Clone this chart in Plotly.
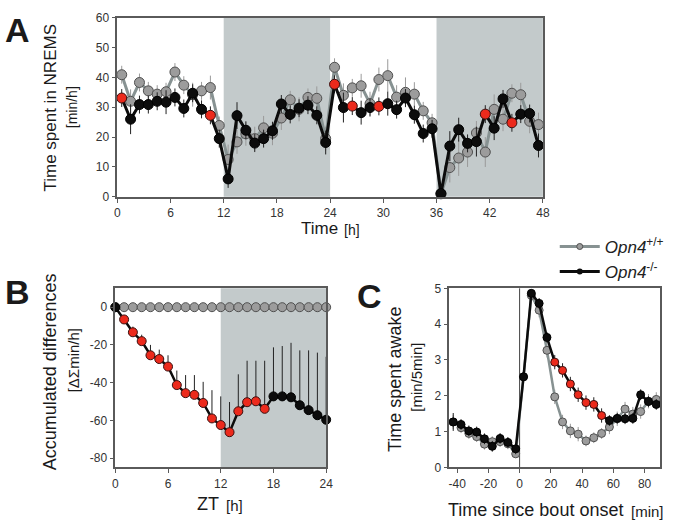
import plotly.graph_objects as go

# ---------------- DATA ----------------
# Panel A: time spent in NREMS (min/h)
hours_A = [0.5, 1.5, 2.5, 3.5, 4.5, 5.5, 6.5, 7.5, 8.5, 9.5, 10.5, 11.5,
           12.5, 13.5, 14.5, 15.5, 16.5, 17.5, 18.5, 19.5, 20.5, 21.5, 22.5, 23.5,
           24.5, 25.5, 26.5, 27.5, 28.5, 29.5, 30.5, 31.5, 32.5, 33.5, 34.5, 35.5,
           36.5, 37.5, 38.5, 39.5, 40.5, 41.5, 42.5, 43.5, 44.5, 45.5, 46.5, 47.5]
wt_A = [40.9, 32.0, 38.3, 35.5, 34.4, 35.2, 41.8, 37.4, 34.2, 35.5, 36.6, 23.9,
        12.5, 18.4, 21.1, 19.5, 23.1, 21.3, 26.4, 32.5, 29.3, 33.3, 33.0, 19.5,
        43.4, 34.0, 36.5, 37.2, 31.2, 39.3, 40.6, 33.4, 35.0, 34.4, 28.8, 24.8,
        1.0, 9.8, 13.0, 15.0, 21.4, 15.0, 29.3, 26.0, 34.7, 34.2, 25.3, 24.2]
wt_A_err = [3, 4, 3, 3, 3, 3, 3, 3, 4, 3, 4, 3,
            5, 4, 4, 4, 4, 4, 4, 3, 4, 3, 4, 4,
            3, 4, 3, 4, 4, 4, 5.5, 4, 5, 4, 3, 3,
            1, 5, 6, 5, 4, 5, 5, 4, 3, 4, 4, 4]
ko_A = [33.1, 26.0, 30.9, 30.9, 32.0, 31.7, 33.3, 29.6, 34.7, 29.3, 27.3, 19.5,
        6.0, 27.2, 22.3, 18.0, 19.5, 22.1, 31.1, 27.6, 29.7, 30.7, 27.3, 18.2,
        37.7, 29.9, 30.4, 28.2, 29.9, 30.3, 31.2, 29.2, 33.1, 27.5, 21.2, 22.8,
        1.1, 17.0, 22.5, 17.9, 18.5, 27.7, 23.0, 32.8, 24.8, 27.7, 27.9, 17.2]
ko_A_err = [3, 5, 3, 3, 3, 4, 3, 3, 3, 3, 3, 3,
            3, 4.5, 3, 3, 3, 3, 3, 3, 3, 3, 3, 4,
            3, 5, 3, 4, 3, 3, 4, 3, 3, 3, 3, 3,
            1, 5, 4, 3, 5, 3, 4, 3, 3, 3, 3, 4]
sig_A = [0.5, 10.5, 24.5, 26.5, 29.5, 41.5, 44.5]

# Panel B: accumulated differences
zt_B = [0, 1, 2, 3, 4, 5, 6, 7, 8, 9, 10, 11, 12,
        13, 14, 15, 16, 17, 18, 19, 20, 21, 22, 23, 24]
wt_B = [0, 0, 0, 0, 0, 0, 0, 0, 0, 0, 0, 0, 0,
        0, 0, 0, 0, 0, 0, 0, 0, 0, 0, 0, 0]
ko_B = [0, -6.5, -13.3, -18.0, -25.5, -27.5, -31.5, -41.3, -45.6, -46.5, -50.8, -59.0, -62.5,
        -66.3, -55.2, -50.4, -49.9, -53.9, -47.3, -47.3, -47.8, -52.0, -54.6, -57.3, -59.7]
ko_B_err = [0, 1.5, 3, 3.4, 5.5, 5, 6, 7.7, 9.6, 10.5, 11.2, 15, 15.2,
            16, 19.6, 22, 21.5, 25.5, 26, 26.7, 28.9, 29.1, 31.7, 33.2, 33.4]
sig_B = [1, 2, 3, 4, 5, 6, 7, 8, 9, 10, 11, 12, 13, 14, 15, 16, 17]

# Panel C: time spent awake (min/5min)
t_C = [-42.5, -37.5, -32.5, -27.5, -22.5, -17.5, -12.5, -7.5, -2.5,
       2.5, 7.5, 12.5, 17.5, 22.5, 27.5, 32.5, 37.5, 42.5, 47.5, 52.5,
       57.5, 62.5, 67.5, 72.5, 77.5, 82.5, 87.5]
wt_C = [1.27, 1.11, 0.95, 0.86, 0.65, 0.72, 0.72, 0.66, 0.38,
        2.53, 4.80, 4.39, 3.27, 1.97, 1.27, 1.02, 0.93, 0.74, 0.83, 0.95,
        1.13, 1.36, 1.63, 1.49, 1.56, 1.85, 1.90]
wt_C_err = [0.2, 0.15, 0.15, 0.15, 0.15, 0.15, 0.15, 0.15, 0.1,
            0.2, 0.15, 0.2, 0.2, 0.2, 0.2, 0.2, 0.2, 0.15, 0.15, 0.15,
            0.2, 0.2, 0.2, 0.2, 0.2, 0.2, 0.2]
ko_C = [1.27, 1.20, 1.02, 0.99, 0.80, 0.59, 0.81, 0.70, 0.52,
        2.53, 4.86, 4.58, 3.63, 2.94, 2.71, 2.33, 2.03, 1.81, 1.76, 1.45,
        1.31, 1.37, 1.36, 1.37, 2.03, 1.84, 1.76]
ko_C_err = [0.25, 0.15, 0.15, 0.15, 0.15, 0.15, 0.15, 0.15, 0.15,
            0.15, 0.1, 0.15, 0.15, 0.2, 0.2, 0.2, 0.2, 0.2, 0.2, 0.2,
            0.15, 0.15, 0.15, 0.15, 0.15, 0.15, 0.15]
sig_C = [22.5, 27.5, 32.5, 37.5, 42.5, 47.5, 52.5]

legend_names = ["<i>Opn4</i><sup>+/+</sup>", "<i>Opn4</i><sup>-/-</sup>"]

# tick labels (hyphen-minus as in the original)
ticks_A_x = [0, 6, 12, 18, 24, 30, 36, 42, 48]
ticks_A_y = [0, 10, 20, 30, 40, 50, 60]
ticks_B_x = [0, 6, 12, 18, 24]
ticks_B_y = [-80, -60, -40, -20, 0]
ticks_C_x = [-40, -20, 0, 20, 40, 60, 80]
ticks_C_y = [0, 1, 2, 3, 4, 5]

# ---------------- STYLE ----------------
FONT = "Liberation Sans, Arial, sans-serif"
GRAY_LINE = "#879292"
GRAY_FILL = "#9c9c9c"
GRAY_EDGE = "#505050"
BLACK = "#0c0c0c"
RED = "#ec2a1c"
SHADE = "#c3cacb"
AXIS = "#5a5a5a"

fig = go.Figure()


def add_pair(xs, wt, wt_err, ko, ko_err, sig, xa, ya, msize, lw, ko_err_minus=None):
    fig.add_trace(go.Scatter(
        x=xs, y=wt, mode="lines+markers", xaxis=xa, yaxis=ya, showlegend=False,
        line=dict(color=GRAY_LINE, width=lw),
        marker=dict(size=msize, color=GRAY_FILL, line=dict(color=GRAY_EDGE, width=1)),
        error_y=dict(type="data", array=wt_err, color="#9a9a9a", thickness=1, width=0,
                     visible=wt_err is not None),
        cliponaxis=False))
    colors = [RED if x in sig else BLACK for x in xs]
    edges = ["#3a1010" if x in sig else "#000000" for x in xs]
    ed = dict(type="data", array=ko_err, color="#222222", thickness=1, width=0)
    if ko_err_minus is not None:
        ed["symmetric"] = False
        ed["arrayminus"] = ko_err_minus
    fig.add_trace(go.Scatter(
        x=xs, y=ko, mode="lines+markers", xaxis=xa, yaxis=ya, showlegend=False,
        line=dict(color=BLACK, width=lw),
        marker=dict(size=msize, color=colors, line=dict(color=edges, width=1)),
        error_y=ed, cliponaxis=False))


def shade(x0, x1, xref, yref):
    fig.add_shape(type="rect", x0=x0, x1=x1, y0=0, y1=1, xref=xref, yref=yref,
                  fillcolor=SHADE, line=dict(width=0), layer="below")


shade(12, 24, "x", "y domain")
shade(36, 48, "x", "y domain")
shade(12, 24, "x2", "y2 domain")
fig.add_shape(type="line", x0=0, x1=0, y0=0, y1=1, xref="x3", yref="y3 domain",
              line=dict(color="#444444", width=1), layer="below")

add_pair(hours_A, wt_A, wt_A_err, ko_A, ko_A_err, sig_A, "x", "y", 10, 3)
add_pair(zt_B, wt_B, None, ko_B, ko_B_err, sig_B, "x2", "y2", 9, 2.5,
         ko_err_minus=[0] * len(ko_B))
add_pair(t_C, wt_C, wt_C_err, ko_C, ko_C_err, sig_C, "x3", "y3", 8, 2.5)

# legend-only traces
fig.add_trace(go.Scatter(x=[None], y=[None], mode="lines+markers", name=legend_names[0],
                         line=dict(color=GRAY_LINE, width=3),
                         marker=dict(size=6, color=GRAY_FILL, line=dict(color=GRAY_EDGE, width=1))))
fig.add_trace(go.Scatter(x=[None], y=[None], mode="lines+markers", name=legend_names[1],
                         line=dict(color=BLACK, width=3),
                         marker=dict(size=6, color=BLACK)))

W, H = 679, 528


def px(v):
    return v / W


def py(v):
    return 1 - v / H


axis_common = dict(showline=True, linecolor=AXIS, linewidth=1.5, mirror=True,
                   ticks="outside", ticklen=4, tickcolor=AXIS, tickwidth=1,
                   showgrid=False, zeroline=False,
                   tickfont=dict(family=FONT, size=12, color="#333333"))


def lab(vals):
    return [str(v) for v in vals]


fig.update_layout(
    width=W, height=H, margin=dict(l=0, r=0, t=0, b=0),
    paper_bgcolor="white", plot_bgcolor="white",
    font=dict(family=FONT, color="#222222"),
    xaxis=dict(domain=[px(116), px(548)], range=[0, 48], tickvals=ticks_A_x, ticktext=lab(ticks_A_x),
               anchor="y", **axis_common),
    yaxis=dict(domain=[py(195), py(11)], range=[0, 60], tickvals=ticks_A_y, ticktext=lab(ticks_A_y),
               anchor="x", **axis_common),
    xaxis2=dict(domain=[px(114), px(328)], range=[0, 24], tickvals=ticks_B_x, ticktext=lab(ticks_B_x),
                anchor="y2", **axis_common),
    yaxis2=dict(domain=[py(473), py(289)], range=[-85, 10], tickvals=ticks_B_y, ticktext=lab(ticks_B_y),
                anchor="x2", **axis_common),
    xaxis3=dict(domain=[px(453), px(667)], range=[-45, 90], tickvals=ticks_C_x, ticktext=lab(ticks_C_x),
                anchor="y3", **axis_common),
    yaxis3=dict(domain=[py(473), py(289)], range=[0, 5], tickvals=ticks_C_y, ticktext=lab(ticks_C_y),
                anchor="x3", **axis_common),
    showlegend=True,
    legend=dict(x=px(560), y=py(228), xanchor="left", yanchor="top",
                font=dict(family=FONT, size=17, color="#222222"),
                bgcolor="rgba(0,0,0,0)", tracegroupgap=0, itemwidth=40),
)

ann = []


def text(x, y, s, size, angle=0, bold=False, xanchor="center"):
    ann.append(dict(x=px(x), y=py(y), xref="paper", yref="paper", text=("<b>%s</b>" % s) if bold else s,
                    showarrow=False, textangle=angle, xanchor=xanchor, yanchor="middle",
                    font=dict(family=FONT, size=size, color="#1a1a1a")))


# panel letters
text(15, 24, "A", 34, bold=True)
text(15, 293, "B", 34, bold=True)
text(372, 297, "C", 34, bold=True)

# y-axis titles
text(48, 103, "Time spent in NREMS", 17, angle=-90)
text(70, 103, "[min/h]", 14, angle=-90)
text(48, 375, "Accumulated differences", 18, angle=-90)
text(71, 363, "[ΔΣmin/h]", 15, angle=-90)
text(398, 383, "Time spent awake", 18, angle=-90)
text(420, 380, "[min/5min]", 15, angle=-90)

# x-axis titles
text(300, 228, "Time", 17, xanchor="left")
text(344, 229, "[h]", 14, xanchor="left")
text(195, 511, "ZT", 18, xanchor="left")
text(224, 512, "[h]", 15, xanchor="left")
text(450, 517, "Time since bout onset", 18, xanchor="left")
text(635, 518, "[min]", 15, xanchor="left")

fig.update_layout(annotations=ann)

fig.write_html("out.html")
